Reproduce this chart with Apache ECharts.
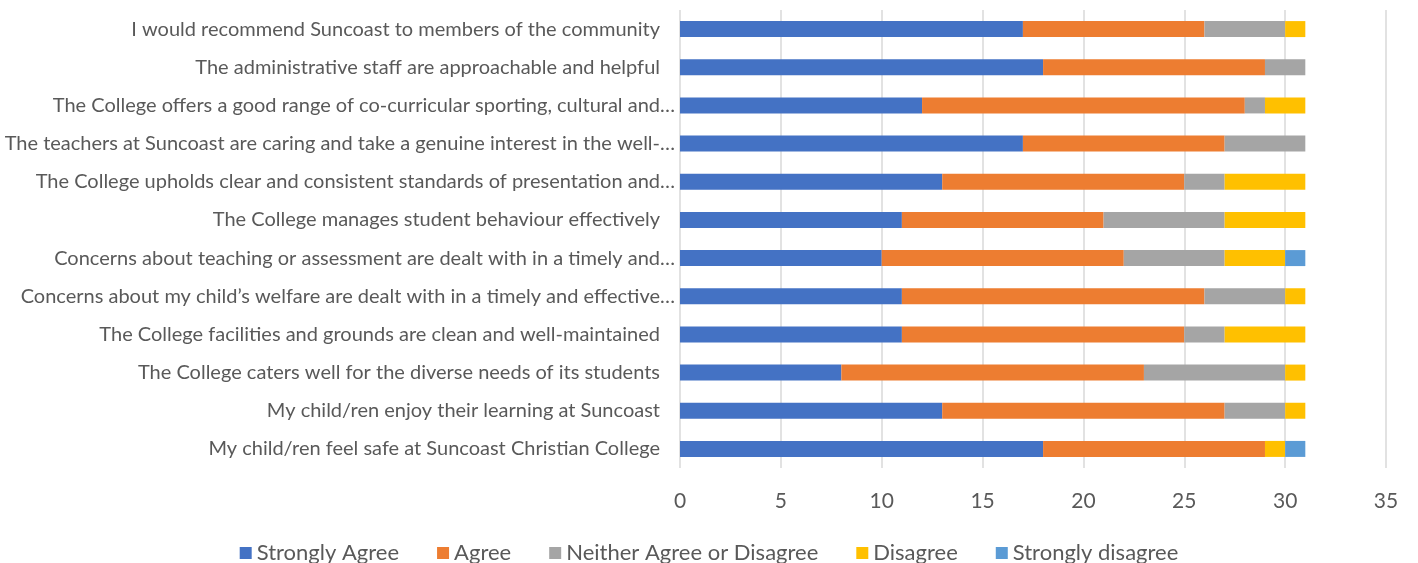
<!DOCTYPE html>
<html><head><meta charset="utf-8">
<script src="https://cdn.jsdelivr.net/npm/echarts@6/dist/echarts.min.js"></script>
<style>html,body{margin:0;padding:0;background:#fff}#c{width:1418px;height:563px}</style>
</head><body><div id="c"></div>
<script>
// Categories listed bottom to top (ECharts category y axis starts at the bottom)
const categories = [
  "My child/ren feel safe at Suncoast Christian College",
  "My child/ren enjoy their learning at Suncoast",
  "The College caters well for the diverse needs of its students",
  "The College facilities and grounds are clean and well-maintained",
  "Concerns about my child\u2019s welfare are dealt with in a timely and effective\u2026",
  "Concerns about teaching or assessment are dealt with in a timely and\u2026",
  "The College manages student behaviour effectively",
  "The College upholds clear and consistent standards of presentation and\u2026",
  "The teachers at Suncoast are caring and take a genuine interest in the well-\u2026",
  "The College offers a good range of co-curricular sporting, cultural and\u2026",
  "The administrative staff are approachable and helpful",
  "I would recommend Suncoast to members of the community"
];
const seriesNames = ["Strongly Agree","Agree","Neither Agree or Disagree","Disagree","Strongly disagree"];
const stronglyAgree = [18,13,8,11,11,10,11,13,17,12,18,17];
const agree         = [11,14,15,14,15,12,10,12,10,16,11, 9];
const neither       = [ 0, 3, 7, 2, 4, 5, 6, 2, 4, 1, 2, 4];
const disagree      = [ 1, 1, 1, 4, 1, 3, 4, 4, 0, 2, 0, 1];
const stronglyDis   = [ 1, 0, 0, 0, 0, 1, 0, 0, 0, 0, 0, 0];
const xTicks = [0,5,10,15,20,25,30,35];

const colors = ["#4472C4","#ED7D31","#A5A5A5","#FFC000","#5B9BD5"];
const values = [stronglyAgree, agree, neither, disagree, stronglyDis];
const FONT = "Lato";
const chart = echarts.init(document.getElementById('c'));
chart.setOption({
  animation: false,
  color: colors,
  textStyle: {fontFamily: FONT},
  grid: {left: 680, right: 32, top: 10, bottom: 95, containLabel: false},
  legend: {
    bottom: -6, left: 'center', itemWidth: 12, itemHeight: 12, itemGap: 38,
    icon: 'rect',
    textStyle: {fontFamily: FONT, fontSize: 22, color: '#595959'},
    data: seriesNames
  },
  xAxis: {
    type: 'value', min: xTicks[0], max: xTicks[xTicks.length-1], interval: 5,
    axisLine: {show: false}, axisTick: {show: false},
    splitLine: {lineStyle: {color: '#D9D9D9', width: 1.5}},
    axisLabel: {fontFamily: FONT, fontSize: 21, color: '#595959', margin: 23}
  },
  yAxis: {
    type: 'category', data: categories,
    axisLine: {show: false}, axisTick: {show: false},
    axisLabel: {
      margin: 5,
      formatter: v => v.endsWith('\u2026') ? '{b|' + v + '}' : '{a|' + v + '}',
      rich: {
        a: {fontFamily: FONT, fontSize: 20, color: '#595959', padding: [0,15,0,0]},
        b: {fontFamily: FONT, fontSize: 20, color: '#595959'}
      }
    }
  },
  series: seriesNames.map((n, i) => ({
    name: n, type: 'bar', stack: 'total', barWidth: 16,
    data: values[i]
  }))
});
</script></body></html>
